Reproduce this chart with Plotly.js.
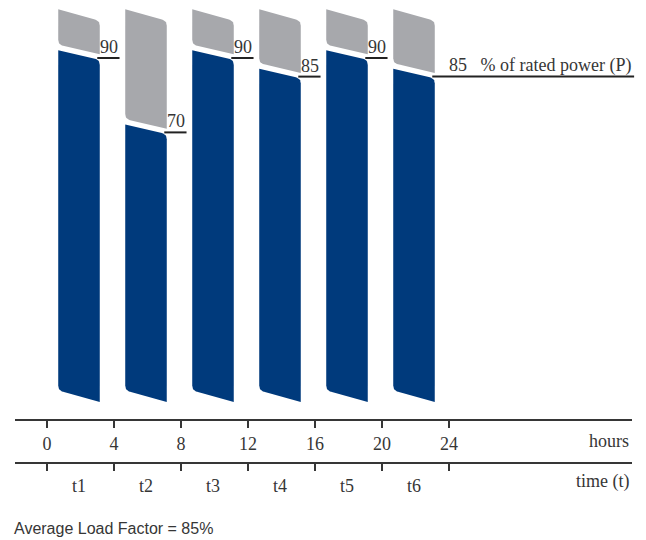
<!DOCTYPE html>
<html>
<head>
<meta charset="utf-8">
<script src="https://cdn.plot.ly/plotly-3.0.1.min.js"></script>
<style>html,body{margin:0;padding:0;background:#fff;}#chart{width:646px;height:540px;}</style>
</head>
<body>
<div id="chart"></div>
<script>
// ---- data ----
const hourTicks = [0, 4, 8, 12, 16, 20, 24];
const hourTickLabels = ['0', '4', '8', '12', '16', '20', '24'];
const periodStarts = [0, 4, 8, 12, 16, 20];
const periodLabels = ['t1', 't2', 't3', 't4', 't5', 't6'];
const loadPct = [90, 70, 90, 85, 90, 85];
const ratedPct = 100;
const avgLoadText = 'Average Load Factor = 85%';
const unitText = '% of rated power (P)';

// ---- style / geometry ----
const W = 646, H = 540;
const XR = [-2.806, 35.76], YR = [-39.6, 105.6];
const TICK_DOMAIN = [15 / 646, 632 / 646];
const TICK_RANGE = [-1.9104, 34.926];
const kx = W / (XR[1] - XR[0]), ky = H / (YR[1] - YR[0]);
const BAR_OFF = 0.67, BAR_W = 2.48, SLANT = 3.1, TOP_SLANT = 2.6, BASE = -2.5, TOP_DROP = 0.5, GAP = 1.5, RAD = 5;
const BLUE = '#003a7c', GREY = '#a7a8ac', INK = '#363636';
const SERIF = 'Liberation Serif, serif';

function roundedPoly(verts, flags) {
  // verts in data coords; round flagged corners in pixel space
  const P = verts.map(v => [v[0] * kx, v[1] * ky]);
  const out = [];
  const n = P.length;
  for (let i = 0; i < n; i++) {
    const V = P[i];
    if (!flags[i]) { out.push(V); continue; }
    const A = P[(i - 1 + n) % n], B = P[(i + 1) % n];
    const da = Math.hypot(A[0] - V[0], A[1] - V[1]);
    const db = Math.hypot(B[0] - V[0], B[1] - V[1]);
    const p1 = [V[0] + (A[0] - V[0]) / da * RAD, V[1] + (A[1] - V[1]) / da * RAD];
    const p2 = [V[0] + (B[0] - V[0]) / db * RAD, V[1] + (B[1] - V[1]) / db * RAD];
    for (let k = 0; k <= 8; k++) {
      const t = k / 8;
      out.push([
        (1 - t) * (1 - t) * p1[0] + 2 * (1 - t) * t * V[0] + t * t * p2[0],
        (1 - t) * (1 - t) * p1[1] + 2 * (1 - t) * t * V[1] + t * t * p2[1]
      ]);
    }
  }
  out.push(out[0]);
  return { x: out.map(p => p[0] / kx), y: out.map(p => p[1] / ky) };
}

const traces = [];
periodStarts.forEach((s, i) => {
  const v = loadPct[i];
  const x0 = s + BAR_OFF, x1 = s + BAR_OFF + BAR_W;
  const blue = roundedPoly(
    [[x0, BASE + SLANT], [x1, BASE], [x1, v - TOP_DROP], [x0, v - TOP_DROP + TOP_SLANT]],
    [true, false, true, false]);
  const grey = roundedPoly(
    [[x0, v - TOP_DROP + GAP + TOP_SLANT], [x1, v - TOP_DROP + GAP], [x1, ratedPct], [x0, ratedPct + SLANT]],
    [true, false, true, false]);
  traces.push({ type: 'scatter', mode: 'lines', x: blue.x, y: blue.y, fill: 'toself',
    fillcolor: BLUE, line: { width: 0, color: BLUE }, hoverinfo: 'skip', showlegend: false });
  traces.push({ type: 'scatter', mode: 'lines', x: grey.x, y: grey.y, fill: 'toself',
    fillcolor: GREY, line: { width: 0, color: GREY }, hoverinfo: 'skip', showlegend: false });
});

// value marker lines
const LINE_START = 3.0, LINE_END = 4.33, LAST_LINE_END = 35.05;
const lx = [], ly = [];
periodStarts.forEach((s, i) => {
  const last = i === periodStarts.length - 1;
  lx.push(s + LINE_START, last ? LAST_LINE_END : s + LINE_END, null);
  ly.push(loadPct[i], loadPct[i], null);
});
traces.push({ type: 'scatter', mode: 'lines', x: lx, y: ly, line: { color: '#222', width: 2 },
  hoverinfo: 'skip', showlegend: false });

// empty traces to instantiate tick axes
traces.push({ type: 'scatter', x: [], y: [], xaxis: 'x2', yaxis: 'y', hoverinfo: 'skip', showlegend: false });
traces.push({ type: 'scatter', x: [], y: [], xaxis: 'x3', yaxis: 'y', hoverinfo: 'skip', showlegend: false });

const annotations = [];
periodStarts.forEach((s, i) => {
  const last = i === periodStarts.length - 1;
  if (!last) {
    annotations.push({ x: s + LINE_END, y: loadPct[i], xref: 'x', yref: 'y', text: String(loadPct[i]),
      showarrow: false, xanchor: 'right', yanchor: 'bottom', yshift: -1,
      font: { family: SERIF, size: 18, color: INK } });
  } else {
    annotations.push({ x: hourTicks[hourTicks.length - 1], y: loadPct[i], xref: 'x', yref: 'y',
      text: String(loadPct[i]) + '&nbsp;&nbsp;&nbsp;' + unitText,
      showarrow: false, xanchor: 'left', yanchor: 'bottom', yshift: -1, xshift: -2,
      font: { family: SERIF, size: 18, color: INK } });
  }
});
annotations.push({ x: 631 / W, y: 1 - 440.5 / H, xref: 'paper', yref: 'paper', text: 'hours',
  showarrow: false, xanchor: 'right', yanchor: 'middle', font: { family: SERIF, size: 18, color: INK } });
annotations.push({ x: 631 / W, y: 1 - 481.5 / H, xref: 'paper', yref: 'paper', text: 'time (t)',
  showarrow: false, xanchor: 'right', yanchor: 'middle', font: { family: SERIF, size: 18, color: INK } });
annotations.push({ x: 12 / W, y: 1 - 528.5 / H, xref: 'paper', yref: 'paper', text: avgLoadText,
  showarrow: false, xanchor: 'left', yanchor: 'middle',
  font: { family: 'Liberation Sans, Arial, sans-serif', size: 16, color: INK } });

const periodCenters = periodStarts.map(s => s + BAR_OFF + BAR_W / 2);

const layout = {
  width: W, height: H,
  margin: { l: 0, r: 0, t: 0, b: 0, pad: 0 },
  paper_bgcolor: '#fff', plot_bgcolor: 'rgba(0,0,0,0)',
  showlegend: false,
  xaxis: { domain: [0, 1], range: XR, visible: false, fixedrange: true },
  yaxis: { domain: [0, 1], range: YR, visible: false, fixedrange: true },
  xaxis2: {
    domain: TICK_DOMAIN, range: TICK_RANGE, anchor: 'free', position: 1 - 420 / H,
    showline: true, linecolor: INK, linewidth: 2, showgrid: false, zeroline: false,
    ticks: 'outside', ticklen: 7, tickwidth: 2, tickcolor: INK,
    tickmode: 'array', tickvals: hourTicks, ticktext: hourTickLabels,
    tickfont: { family: SERIF, size: 18, color: INK }, fixedrange: true
  },
  xaxis3: {
    domain: TICK_DOMAIN, range: TICK_RANGE, anchor: 'free', position: 1 - 462.7 / H,
    showline: true, linecolor: INK, linewidth: 2, showgrid: false, zeroline: false,
    ticks: 'outside', ticklen: 7, tickwidth: 2, tickcolor: 'rgba(0,0,0,0)',
    tickmode: 'array', tickvals: periodCenters, ticktext: periodLabels,
    tickfont: { family: SERIF, size: 18, color: INK },
    minor: { tickmode: 'array', tickvals: hourTicks, ticks: 'outside', ticklen: 7, tickwidth: 2,
      tickcolor: INK, showgrid: false },
    fixedrange: true
  },
  annotations: annotations
};

Plotly.newPlot('chart', traces, layout, { staticPlot: true, displayModeBar: false });
</script>
</body>
</html>
